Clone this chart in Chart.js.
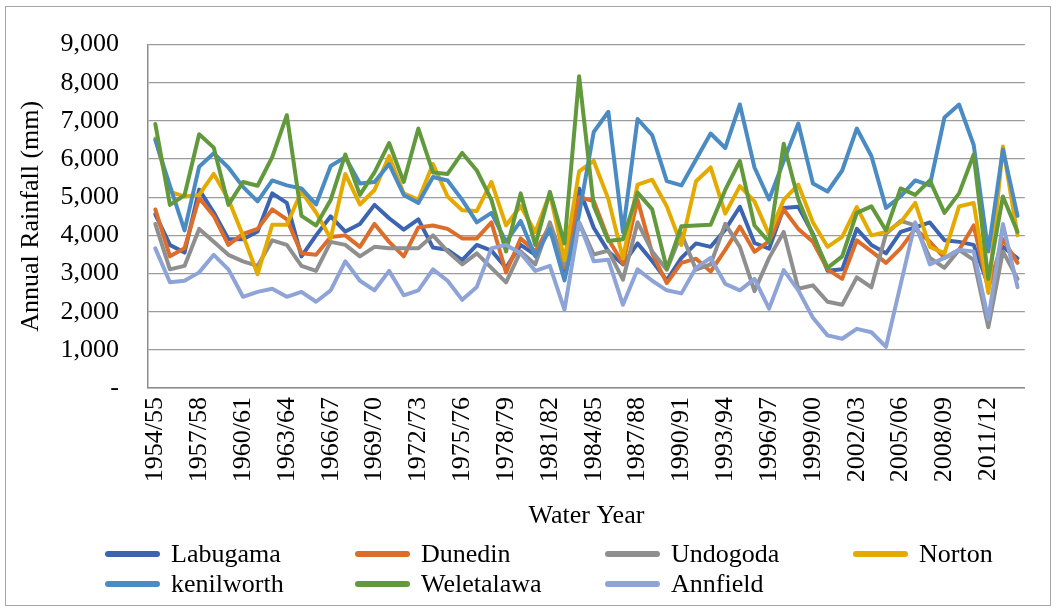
<!DOCTYPE html>
<html>
<head>
<meta charset="utf-8">
<script src="https://cdn.jsdelivr.net/npm/chart.js@4.4.1/dist/chart.umd.min.js"></script>
<style>
  html, body { margin: 0; padding: 0; background: #fff; }
  #wrap { position: relative; width: 1058px; height: 610px; }
  #frame { position: absolute; left: 5px; top: 6px; width: 1046px; height: 600px; border: 1.5px solid #a6a6a6; box-sizing: border-box; }
  #chart { position: absolute; left: 0; top: 0; }
  #legend { position: absolute; left: 0; top: 0; width: 1058px; height: 610px; pointer-events: none;
            font-family: "Liberation Serif", "Times New Roman", serif; font-size: 26px; color: #000; }
  .item { position: absolute; height: 30px; line-height: 30px; white-space: nowrap; }
  .item span.sw { position: absolute; left: 0; top: 12px; width: 55px; height: 6px; border-radius: 3px; }
  .item span.tx { position: absolute; left: 66px; top: 0; }
</style>
</head>
<body>
<div id="wrap">
  <div id="frame"></div>
  <canvas id="chart" width="1058" height="610"></canvas>
  <div id="legend"></div>
</div>
<script>
// water years on the x axis
const years = ["1954/55","1955/56","1956/57","1957/58","1958/59","1959/60","1960/61","1961/62","1962/63","1963/64",
  "1964/65","1965/66","1966/67","1967/68","1968/69","1969/70","1970/71","1971/72","1972/73","1973/74",
  "1974/75","1975/76","1976/77","1977/78","1978/79","1979/80","1980/81","1981/82","1982/83","1983/84",
  "1984/85","1985/86","1986/87","1987/88","1988/89","1989/90","1990/91","1991/92","1992/93","1993/94",
  "1994/95","1995/96","1996/97","1997/98","1998/99","1999/00","2000/01","2001/02","2002/03","2003/04",
  "2004/05","2005/06","2006/07","2007/08","2008/09","2009/10","2010/11","2011/12","2012/13","2013/14"];

// annual rainfall (mm) per station
const labugama = [4550,3750,3550,5200,4600,3900,3900,4100,5100,4850, 3450,4000,4500,4100,4300,4800,4450,4150,4420,3680,
  3620,3350,3750,3600,3150,3750,3490,4170,3070,5230, 4200,3580,3240,3790,3330,2820,3410,3790,3700,4150,
  4750,3800,3650,4720,4750,4040,3070,3110,4170,3750, 3530,4090,4210,4340,3870,3830,3750,2700,3700,3400];
const dunedin = [4680,3450,3660,4980,4510,3750,4040,4170,4680,4420, 3530,3490,3960,4000,3700,4300,3830,3450,4210,4260,
  4170,3920,3920,4340,3030,3920,3580,4260,3150,5000, 4900,3900,3260,4930,3530,2750,3280,3390,3050,3620,
  4230,3570,3850,4680,4170,3830,3110,2860,3870,3580, 3280,3660,4170,3830,3410,3620,4260,2600,3900,3280];
const undogoda = [4300,3110,3200,4170,3830,3490,3320,3200,3870,3750, 3200,3070,3830,3750,3450,3700,3660,3660,3660,4000,
  3580,3240,3530,3150,2770,3580,3240,4340,3240,4340, 3500,3600,2840,4340,3580,3100,4050,3100,3240,4300,
  3700,2540,3410,4090,2600,2690,2260,2180,2900,2640, 4040,4380,4260,3410,3150,3620,3360,1590,3580,2860];
const norton = [6540,5140,5020,5060,5610,4950,4000,2980,4280,4280, 5150,4600,3920,5610,4810,5190,6080,5100,4930,5870,
  5020,4660,4640,5400,4260,4770,4080,5100,3350,5680, 5950,4950,3400,5330,5460,4760,3750,5420,5780,4570,
  5290,4890,4020,4930,5330,4340,3700,3960,4740,4000, 4090,4340,4850,3700,3530,4760,4850,2490,6330,4000];
const kenilworth = [6500,5300,4130,5800,6150,5780,5270,4890,5440,5310, 5230,4810,5820,6050,5360,5400,5870,5060,4850,5530,
  5440,4930,4340,4590,3830,4380,3450,4170,2820,4550, 6710,7240,4090,7050,6630,5420,5310,5990,6670,6290,
  7430,5780,4940,5950,6930,5360,5150,5700,6800,6080, 4720,5020,5440,5310,7090,7430,6370,3580,6250,4510];
const weletalawa = [6920,4800,5050,6650,6300,4800,5400,5300,6050,7150, 4510,4260,4930,6120,5060,5650,6420,5400,6800,5650,
  5610,6160,5700,4930,3580,5100,3750,5140,3790,8170, 4770,3850,3900,5120,4680,3130,4240,4260,4280,5190,
  5950,4260,3830,6400,4940,4000,3150,3450,4590,4760, 4130,5230,5060,5440,4590,5100,6120,2860,5020,4090];
const annfield = [3660,2770,2810,3030,3490,3110,2390,2520,2600,2390, 2520,2260,2560,3320,2810,2560,3070,2430,2560,3110,
  2810,2310,2650,3660,3750,3530,3070,3200,2050,4340, 3320,3360,2180,3110,2810,2560,2480,3150,3410,2730,
  2560,2860,2080,3090,2560,1840,1380,1290,1550,1460, 1080,2710,4340,3240,3410,3620,3580,1800,4300,2640];

const stations = ["Labugama", "Dunedin", "Undogoda", "Norton", "kenilworth", "Weletalawa", "Annfield"];
const seriesData = [labugama, dunedin, undogoda, norton, kenilworth, weletalawa, annfield];
const colors = ["#3c64b1", "#dc6d2a", "#8f8f8f", "#e5aa00", "#4a8bc3", "#62993c", "#8ea4d6"];

const FONT = "'Liberation Serif', 'Times New Roman', serif";

const datasets = stations.map(function (name, i) {
    return {
        label: name,
        data: seriesData[i],
        borderColor: colors[i],
        backgroundColor: colors[i],
        borderWidth: 4,
        pointRadius: 0,
        tension: 0,
        fill: false,
        borderJoinStyle: "round",
        borderCapStyle: "round",
        order: stations.length - i   // later series on top, like Excel
    };
});

new Chart(document.getElementById("chart"), {
    type: "line",
    data: { labels: years, datasets: datasets },
    options: {
        responsive: false,
        animation: false,
        layout: { padding: { left: 16, right: 32, top: 33, bottom: 75 } },
        plugins: { legend: { display: false }, tooltip: { enabled: false } },
        scales: {
            x: {
                offset: true,
                grid: { display: false, drawTicks: false },
                border: { display: true, color: "#8c8c8c", width: 1.5 },
                ticks: {
                    autoSkip: false,
                    maxRotation: 90,
                    minRotation: 90,
                    padding: 9,
                    color: "#000",
                    font: { family: FONT, size: 26 },
                    callback: function (value, index) {
                        return index % 3 === 0 ? this.getLabelForValue(value) : "";
                    }
                },
                title: {
                    display: true,
                    text: "Water Year",
                    color: "#000",
                    font: { family: FONT, size: 26 },
                    padding: { top: 0, bottom: 3 }
                },
                afterFit: function (scale) { scale.height = 147; }
            },
            y: {
                min: 0,
                max: 9000,
                grid: { color: "#9c9c9c", lineWidth: 1.3, drawTicks: false },
                border: { display: true, color: "#8c8c8c", width: 1.5 },
                ticks: {
                    stepSize: 1000,
                    padding: 29,
                    color: "#000",
                    font: { family: FONT, size: 26 },
                    callback: function (v) { return v === 0 ? "-" : v.toLocaleString("en-US"); }
                },
                title: {
                    display: true,
                    text: "Annual Rainfall (mm)",
                    color: "#000",
                    font: { family: FONT, size: 26 },
                    padding: { top: 0, bottom: 0 }
                },
                afterFit: function (scale) { scale.width = 132; }
            }
        }
    }
});

// legend in fixed columns, two rows
const legend = document.getElementById("legend");
const colX = [105, 355, 605, 853];
const rowY = [539, 569];
stations.forEach(function (name, i) {
    const item = document.createElement("div");
    item.className = "item";
    item.style.left = colX[i % 4] + "px";
    item.style.top = rowY[Math.floor(i / 4)] + "px";
    item.innerHTML = '<span class="sw" style="background:' + colors[i] + '"></span><span class="tx">' + name + '</span>';
    legend.appendChild(item);
});
</script>
</body>
</html>
